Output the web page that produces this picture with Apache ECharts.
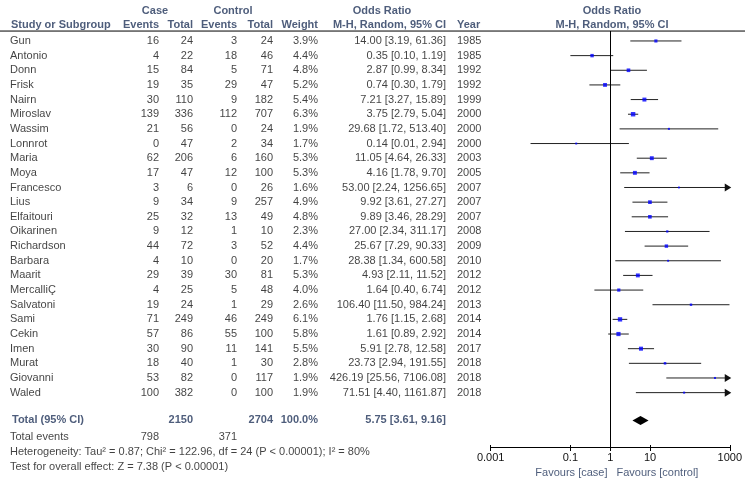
<!DOCTYPE html>
<html>
<head>
<meta charset="utf-8">
<script src="https://cdn.jsdelivr.net/npm/echarts@6/dist/echarts.min.js"></script>
<style>
html,body{margin:0;padding:0;background:#fff;}
#chart{width:745px;height:486px;}
</style>
</head>
<body>
<div id="chart"></div>
<script>
// ---------- data ----------
const studies = ['Gun','Antonio','Donn','Frisk','Nairn','Miroslav','Wassim','Lonnrot','Maria','Moya','Francesco','Lius','Elfaitouri','Oikarinen','Richardson','Barbara','Maarit','MercalliÇ','Salvatoni','Sami','Cekin','Imen','Murat','Giovanni','Waled'];
const caseEvents = [16,4,15,19,30,139,21,0,62,17,3,9,25,9,44,4,29,4,19,71,57,30,18,53,100];
const caseTotal = [24,22,84,35,110,336,56,47,206,47,6,34,32,12,72,10,39,25,24,249,86,90,40,82,382];
const ctrlEvents = [3,18,5,29,9,112,0,2,6,12,0,9,13,1,3,0,30,5,1,46,55,11,1,0,0];
const ctrlTotal = [24,46,71,47,182,707,24,34,160,100,26,257,49,10,52,20,81,48,29,249,100,141,30,117,100];
const weights = [3.9,4.4,4.8,5.2,5.4,6.3,1.9,1.7,5.3,5.3,1.6,4.9,4.8,2.3,4.4,1.7,5.3,4.0,2.6,6.1,5.8,5.5,2.8,1.9,1.9];
const orVals = [14.00,0.35,2.87,0.74,7.21,3.75,29.68,0.14,11.05,4.16,53.00,9.92,9.89,27.00,25.67,28.38,4.93,1.64,106.40,1.76,1.61,5.91,23.73,426.19,71.51];
const ciLow = [3.19,0.10,0.99,0.30,3.27,2.79,1.72,0.01,4.64,1.78,2.24,3.61,3.46,2.34,7.29,1.34,2.11,0.40,11.50,1.15,0.89,2.78,2.94,25.56,4.40];
const ciHigh = [61.36,1.19,8.34,1.79,15.89,5.04,513.40,2.94,26.33,9.70,1256.65,27.27,28.29,311.17,90.33,600.58,11.52,6.74,984.24,2.68,2.92,12.58,191.55,7106.08,1161.87];
const years = [1985,1985,1992,1992,1999,2000,2000,2000,2003,2005,2007,2007,2007,2008,2009,2010,2012,2012,2013,2014,2014,2017,2018,2018,2018];
const totalCase = 2150, totalCtrl = 2704, totalWeight = '100.0%';
const totalOR = 5.75, totalLow = 3.61, totalHigh = 9.16;
const totalEventsCase = 798, totalEventsCtrl = 371;
const heterogeneityText = 'Heterogeneity: Tau\u00b2 = 0.87; Chi\u00b2 = 122.96, df = 24 (P < 0.00001); I\u00b2 = 80%';
const overallText = 'Test for overall effect: Z = 7.38 (P < 0.00001)';
const tickVals = [0.001, 0.1, 1, 10, 1000];
const favLeft = 'Favours [case]', favRight = 'Favours [control]';

// ---------- layout ----------
const FONT = '"Liberation Sans", Arial, sans-serif';
const NAVY = '#22355a';
const BLACK = '#111';
const axisMin = 0.001, axisMax = 1000;
const col = {name:10, caseEv:159, caseTot:193, ctrlEv:237, ctrlTot:273, weight:318, orText:446, year:457, plotCenter:612};
const rowHdr1 = -2.05, rowHdr2 = -1.09, rowRule = -0.68, rowTotal = 25.9, rowEvents = 27.0, rowHet = 28.05, rowTest = 29.08, rowFav = 29.5;

function fmt2(v){ return v.toFixed(2); }
const texts = [];
function T(x, y, text, align, opts){
  opts = opts || {};
  texts.push({
    value:[x, y],
    label:{
      show:true,
      formatter: String(text),
      position: align === 'right' ? 'left' : (align === 'left' ? 'right' : 'inside'),
      distance: 0,
      fontFamily: FONT,
      fontSize: 11,
      fontWeight: opts.bold ? 'bold' : 'normal',
      color: opts.color || BLACK
    }
  });
}
// headers
T(155, rowHdr1, 'Case', 'center', {bold:true, color:NAVY});
T(233, rowHdr1, 'Control', 'center', {bold:true, color:NAVY});
T(382, rowHdr1, 'Odds Ratio', 'center', {bold:true, color:NAVY});
T(col.plotCenter, rowHdr1, 'Odds Ratio', 'center', {bold:true, color:NAVY});
T(col.name+1, rowHdr2, 'Study or Subgroup', 'left', {bold:true, color:NAVY});
T(col.caseEv, rowHdr2, 'Events', 'right', {bold:true, color:NAVY});
T(col.caseTot, rowHdr2, 'Total', 'right', {bold:true, color:NAVY});
T(col.ctrlEv, rowHdr2, 'Events', 'right', {bold:true, color:NAVY});
T(col.ctrlTot, rowHdr2, 'Total', 'right', {bold:true, color:NAVY});
T(col.weight, rowHdr2, 'Weight', 'right', {bold:true, color:NAVY});
T(col.orText, rowHdr2, 'M-H, Random, 95% CI', 'right', {bold:true, color:NAVY});
T(col.year, rowHdr2, 'Year', 'left', {bold:true, color:NAVY});
T(col.plotCenter, rowHdr2, 'M-H, Random, 95% CI', 'center', {bold:true, color:NAVY});
// body
studies.forEach((s, i) => {
  T(col.name, i, s, 'left');
  T(col.caseEv, i, caseEvents[i], 'right');
  T(col.caseTot, i, caseTotal[i], 'right');
  T(col.ctrlEv, i, ctrlEvents[i], 'right');
  T(col.ctrlTot, i, ctrlTotal[i], 'right');
  T(col.weight, i, weights[i].toFixed(1) + '%', 'right');
  T(col.orText, i, fmt2(orVals[i]) + ' [' + fmt2(ciLow[i]) + ', ' + fmt2(ciHigh[i]) + ']', 'right');
  T(col.year, i, years[i], 'left');
});
// totals
T(col.name+2, rowTotal, 'Total (95% CI)', 'left', {bold:true, color:NAVY});
T(col.caseTot, rowTotal, totalCase, 'right', {bold:true, color:NAVY});
T(col.ctrlTot, rowTotal, totalCtrl, 'right', {bold:true, color:NAVY});
T(col.weight, rowTotal, totalWeight, 'right', {bold:true, color:NAVY});
T(col.orText, rowTotal, fmt2(totalOR) + ' [' + fmt2(totalLow) + ', ' + fmt2(totalHigh) + ']', 'right', {bold:true, color:NAVY});
T(col.name, rowEvents, 'Total events', 'left');
T(col.caseEv, rowEvents, totalEventsCase, 'right');
T(col.ctrlEv, rowEvents, totalEventsCtrl, 'right');
T(col.name, rowHet, heterogeneityText, 'left');
T(col.name, rowTest, overallText, 'left');
T(607.5, rowFav, favLeft, 'right', {color:NAVY});
T(616.5, rowFav, favRight, 'left', {color:NAVY});

const chart = echarts.init(document.getElementById('chart'), null, {renderer:'canvas'});

const ciData = studies.map((s, i) => [ciLow[i], Math.min(ciHigh[i], axisMax), i, ciHigh[i] > axisMax ? 1 : 0]);
const sqData = studies.map((s, i) => ({value:[orVals[i], i], symbolSize: 1 + weights[i]*0.55}));

const option = {
  animation:false,
  backgroundColor:'#fff',
  grid:[
    {left:0, right:0, top:0, bottom:0},
    {left:490.7, right:10.7, top:31, bottom:39}
  ],
  xAxis:[
    {gridIndex:0, type:'value', min:0, max:745, show:false},
    {gridIndex:1, type:'log', logBase:10, min:axisMin, max:axisMax, position:'bottom',
     axisLine:{show:true, onZero:false, lineStyle:{color:'#000', width:1}},
     axisTick:{show:true, length:4, lineStyle:{color:'#000'}, customValues:tickVals},
     axisLabel:{show:true, customValues:tickVals, margin:5, color:BLACK, fontFamily:FONT, fontSize:11,
       formatter:function(v){ return String(+Number(v).toPrecision(6)); }},
     splitLine:{show:false}},
    {gridIndex:1, type:'log', logBase:10, min:axisMin, max:axisMax, position:'bottom',
     axisLine:{show:false, onZero:false},
     axisTick:{show:true, inside:true, length:2, lineStyle:{color:'#000'}, customValues:tickVals},
     axisLabel:{show:false},
     splitLine:{show:false}}
  ],
  yAxis:[
    {gridIndex:0, type:'value', min:-2.8, max:30.375, inverse:true, show:false},
    {gridIndex:1, type:'value', min:-0.68, max:27.71, inverse:true, show:false}
  ],
  series:[
    {
      type:'scatter', xAxisIndex:0, yAxisIndex:0, symbolSize:0, silent:true,
      data: texts
    },
    {
      type:'line', xAxisIndex:0, yAxisIndex:0, silent:true, symbol:'none',
      lineStyle:{color:'#000', width:1},
      data:[[0, rowRule], [745, rowRule]]
    },
    {
      type:'custom', xAxisIndex:1, yAxisIndex:1, silent:true,
      encode:{x:[0,1], y:2},
      data: ciData,
      renderItem:function(params, api){
        const p1 = api.coord([api.value(0), api.value(2)]);
        const p2 = api.coord([api.value(1), api.value(2)]);
        const children = [{type:'line', shape:{x1:p1[0], y1:p1[1], x2:p2[0], y2:p2[1]}, style:{stroke:'#222', lineWidth:1}}];
        if (api.value(3)) {
          children.push({type:'polygon', shape:{points:[[p2[0]+1.5, p2[1]], [p2[0]-5, p2[1]-4], [p2[0]-5, p2[1]+4]]}, style:{fill:'#111'}});
        }
        return {type:'group', children:children};
      }
    },
    {
      type:'scatter', xAxisIndex:1, yAxisIndex:1, silent:true, symbol:'rect',
      itemStyle:{color:'#0000ff'},
      data: sqData,
      markLine:{silent:true, symbol:'none', label:{show:false},
        lineStyle:{color:'#000', width:1, type:'solid'},
        data:[{xAxis:1}]}
    },
    {
      type:'custom', xAxisIndex:1, yAxisIndex:1, silent:true,
      encode:{x:[0,1,2], y:3},
      data:[[totalLow, totalOR, totalHigh, rowTotal]],
      renderItem:function(params, api){
        const y = api.value(3);
        const a = api.coord([api.value(0), y]);
        const m = api.coord([api.value(1), y]);
        const b = api.coord([api.value(2), y]);
        return {type:'polygon', shape:{points:[[a[0], a[1]], [m[0], m[1]-4.5], [b[0], b[1]], [m[0], m[1]+4.5]]}, style:{fill:'#000'}};
      }
    }
  ]
};
chart.setOption(option);
</script>
</body>
</html>
